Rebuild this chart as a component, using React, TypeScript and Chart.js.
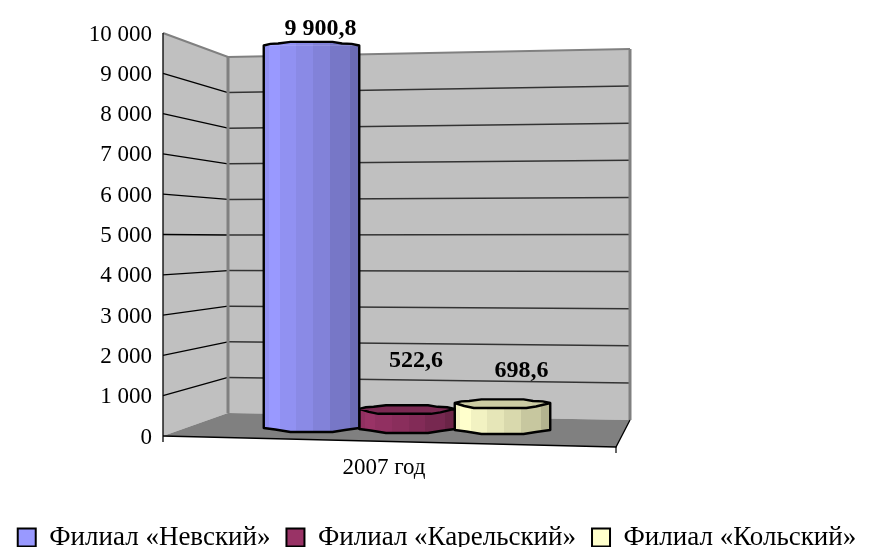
import React, { useEffect, useRef } from "react";
import { Chart, registerables } from "chart.js";

Chart.register(...registerables);

const categories = ["2007 год"];
const seriesNames = ["Филиал «Невский»", "Филиал «Карельский»", "Филиал «Кольский»"];
const nevsky = [9900.8];
const karelsky = [522.6];
const kolsky = [698.6];
const baseRgb = [
  [153, 153, 255],
  [153, 51, 102],
  [255, 255, 204],
];
const solidColors = ["#9999FF", "#993366", "#FFFFCC"];

const SERIF = "'Liberation Serif', serif";
const BAR_W = 95.5;
// view geometry of the 3D box
const BACK_LEFT = 228;
const BACK_RIGHT = 630;
const FRONT_RIGHT = 616;
const FLOOR_RIGHT_Y = 447;
const BL_BOTTOM = 413;
const BL_TOP = 57;
const BR_BOTTOM = 420;
const BR_TOP = 49;

const facetStops = [0, 0.06, 0.17, 0.34, 0.52, 0.69, 0.9, 1];
const facetShade = [0.95, 1, 0.95, 0.9, 0.85, 0.78, 0.7];
const capBack: [number, number][] = [[0, 0], [0.07, -1.6], [0.15, -2], [0.28, -3.6], [0.72, -3.6], [0.82, -2], [0.92, -1.6], [1, 0]];
const capFront: [number, number][] = [[1, 0], [0.85, 3.5], [0.75, 5], [0.2, 5], [0.1, 3], [0, 0]];
const bottomCurve: [number, number][] = [[1, 0], [0.85, 2], [0.72, 4], [0.28, 4], [0.12, 1.5], [0, 0]];
const baseShift = [0, 1, 2];
const labelShift = [[9, -17], [9, -47], [19, -30]];

const shade = (rgb: number[], k: number) => `rgb(${rgb.map((c) => Math.round(c * k)).join(",")})`;

function facetGradient(ctx: any) {
  const chart = ctx.chart;
  const i = ctx.datasetIndex;
  const xs = chart.scales.x;
  if (!xs || !chart.chartArea) return solidColors[i];
  const left = xs.getPixelForTick(0) + (i - 1.5) * BAR_W;
  const g = chart.ctx.createLinearGradient(left, 0, left + BAR_W, 0);
  facetShade.forEach((k: number, n: number) => {
    const c = shade(baseRgb[i], k);
    g.addColorStop(facetStops[n], c);
    g.addColorStop(facetStops[n + 1], c);
  });
  return g;
}

const fmt = (v: number, d: number) =>
  v.toFixed(d).replace(".", ",").replace(/\B(?=(\d{3})+(?!\d))/g, " ");

const box3d = {
  id: "box3d",
  afterLayout(chart: any) {
    chart.legend.top = 508;
  },
  beforeDatasetsDraw(chart: any) {
    const { ctx } = chart;
    const y = chart.scales.y;
    const left = chart.chartArea.left;
    const y0 = y.getPixelForValue(0);
    const yTop = y.getPixelForValue(10000);
    const line = (pts: number[][], color: string, w: number) => {
      ctx.beginPath();
      pts.forEach((p, i) => (i ? ctx.lineTo(p[0], p[1]) : ctx.moveTo(p[0], p[1])));
      ctx.strokeStyle = color;
      ctx.lineWidth = w;
      ctx.stroke();
    };
    const fill = (pts: number[][], color: string) => {
      ctx.beginPath();
      pts.forEach((p, i) => (i ? ctx.lineTo(p[0], p[1]) : ctx.moveTo(p[0], p[1])));
      ctx.closePath();
      ctx.fillStyle = color;
      ctx.fill();
    };
    ctx.save();
    fill([[left, yTop], [BACK_LEFT, BL_TOP], [BACK_LEFT, BL_BOTTOM], [left, y0]], "#C0C0C0");
    fill([[BACK_LEFT, BL_TOP], [BACK_RIGHT, BR_TOP], [BACK_RIGHT, BR_BOTTOM], [BACK_LEFT, BL_BOTTOM]], "#C0C0C0");
    fill([[left, y0], [BACK_LEFT, BL_BOTTOM], [BACK_RIGHT, BR_BOTTOM], [FRONT_RIGHT, FLOOR_RIGHT_Y]], "#808080");
    y.ticks.forEach((t: any) => {
      if (t.value === 0 || t.value === 10000) return;
      const f = t.value / 10000;
      const yf = y.getPixelForValue(t.value);
      const yl = BL_BOTTOM + (BL_TOP - BL_BOTTOM) * f;
      const yr = BR_BOTTOM + (BR_TOP - BR_BOTTOM) * f;
      line([[BACK_LEFT, yl], [BACK_RIGHT, yr]], "#333333", 1.5);
      line([[left, yf], [BACK_LEFT, yl]], "#000000", 1.3);
    });
    line([[left, yTop], [BACK_LEFT, BL_TOP], [BACK_RIGHT, BR_TOP]], "#808080", 2.2);
    line([[BACK_RIGHT, BR_TOP], [BACK_RIGHT, BR_BOTTOM]], "#808080", 3);
    line([[BACK_LEFT, BL_TOP], [BACK_LEFT, BL_BOTTOM]], "#808080", 3);
    line([[left, yTop], [left, y0 + 6]], "#000000", 1.3);
    line([[left, y0], [FRONT_RIGHT, FLOOR_RIGHT_Y], [BACK_RIGHT, BR_BOTTOM]], "#000000", 1.3);
    line([[FRONT_RIGHT, FLOOR_RIGHT_Y], [FRONT_RIGHT, FLOOR_RIGHT_Y + 6]], "#000000", 1.2);
    ctx.restore();
  },
  beforeDatasetDraw(chart: any, args: any) {
    chart.ctx.save();
    chart.ctx.translate(0, baseShift[args.index]);
  },
  afterDatasetDraw(chart: any, args: any) {
    const { ctx } = chart;
    const el = args.meta.data[0];
    const L = el.x - el.width / 2;
    const W = el.width;
    const top = el.y;
    const base = el.base;
    const tall = base - top > 100;
    const path = (pts: [number, number][], y: number, start: boolean) =>
      pts.forEach(([fx, dy], i) => {
        if (i === 0 && start) ctx.moveTo(L + fx * W, y + dy);
        else ctx.lineTo(L + fx * W, y + dy);
      });
    // underside bulge
    ctx.beginPath();
    ctx.moveTo(L, base);
    ctx.lineTo(L + W, base);
    path(bottomCurve, base, false);
    ctx.closePath();
    ctx.fillStyle = el.options.backgroundColor;
    ctx.fill();
    // top cap
    ctx.beginPath();
    path(capBack, top, true);
    if (!tall) path(capFront, top, false);
    ctx.closePath();
    ctx.fillStyle = tall ? el.options.backgroundColor : shade(baseRgb[args.index], 0.8);
    ctx.fill();
    // outline
    ctx.beginPath();
    path(capBack, top, true);
    ctx.lineTo(L + W, base);
    path(bottomCurve, base, false);
    ctx.closePath();
    if (!tall) {
      ctx.moveTo(L, top);
      path([...capFront].reverse() as [number, number][], top, false);
    }
    ctx.strokeStyle = "#000000";
    ctx.lineWidth = 2.4;
    ctx.lineJoin = "round";
    ctx.stroke();
    ctx.restore();
  },
  afterDatasetsDraw(chart: any) {
    const { ctx } = chart;
    ctx.save();
    ctx.font = `bold 24px ${SERIF}`;
    ctx.textAlign = "center";
    ctx.textBaseline = "middle";
    ctx.fillStyle = "#000000";
    chart.data.datasets.forEach((ds: any, i: number) => {
      const el = chart.getDatasetMeta(i).data[0];
      ctx.fillText(fmt(ds.data[0], 1), el.x + labelShift[i][0], el.y + labelShift[i][1]);
    });
    ctx.restore();
  },
};

export default function App() {
  const ref = useRef<HTMLCanvasElement>(null);
  useEffect(() => {
    const seriesData = [nevsky, karelsky, kolsky];
    const chart = new Chart(ref.current as HTMLCanvasElement, {
      type: "bar",
      data: {
        labels: categories,
        datasets: seriesNames.map((label, i) => ({
          label,
          data: seriesData[i],
          yAxisID: "y2",
          barThickness: BAR_W,
          backgroundColor: facetGradient,
          borderWidth: 0,
        })),
      },
      options: {
        responsive: false,
        animation: false,
        layout: { padding: { top: 33, left: 0, right: 0, bottom: 0 } },
        plugins: {
          tooltip: { enabled: false },
          title: { display: false },
          legend: {
            position: "bottom",
            labels: {
              font: { family: SERIF, size: 27 },
              color: "#000000",
              boxWidth: 18,
              boxHeight: 18,
              padding: 16,
              generateLabels: () =>
                seriesNames.map((text, i) => ({
                  text,
                  fillStyle: solidColors[i],
                  strokeStyle: "#000000",
                  lineWidth: 2,
                  datasetIndex: i,
                  hidden: false,
                })),
            },
          },
        },
        scales: {
          x: {
            grid: { display: false, drawTicks: false },
            border: { display: false },
            afterFit: (s: any) => {
              s.height = 58;
            },
            ticks: {
              labelOffset: -23,
              padding: 18,
              color: "#000000",
              font: { family: SERIF, size: 23 },
              maxRotation: 0,
            },
          },
          y: {
            position: "left",
            min: 0,
            max: 10000,
            grid: { display: false, drawTicks: false },
            border: { display: false },
            afterFit: (s: any) => {
              s.width = 163;
            },
            ticks: {
              stepSize: 1000,
              padding: 11,
              labelOffset: 1.5,
              color: "#000000",
              font: { family: SERIF, size: 23 },
              callback: (v: any) => fmt(Number(v), 0),
            },
          },
          y2: {
            position: "right",
            min: -207,
            max: 10225,
            grid: { display: false, drawTicks: false },
            border: { display: false },
            ticks: { display: false },
            afterFit: (s: any) => {
              s.width = 223;
            },
          },
        },
      },
      plugins: [box3d],
    } as any);
    return () => chart.destroy();
  }, []);
  return (
    <div style={{ position: "absolute", left: 0, top: 0, width: 874, height: 547 }}>
      <canvas ref={ref} width={874} height={547} style={{ display: "block" }} />
    </div>
  );
}
